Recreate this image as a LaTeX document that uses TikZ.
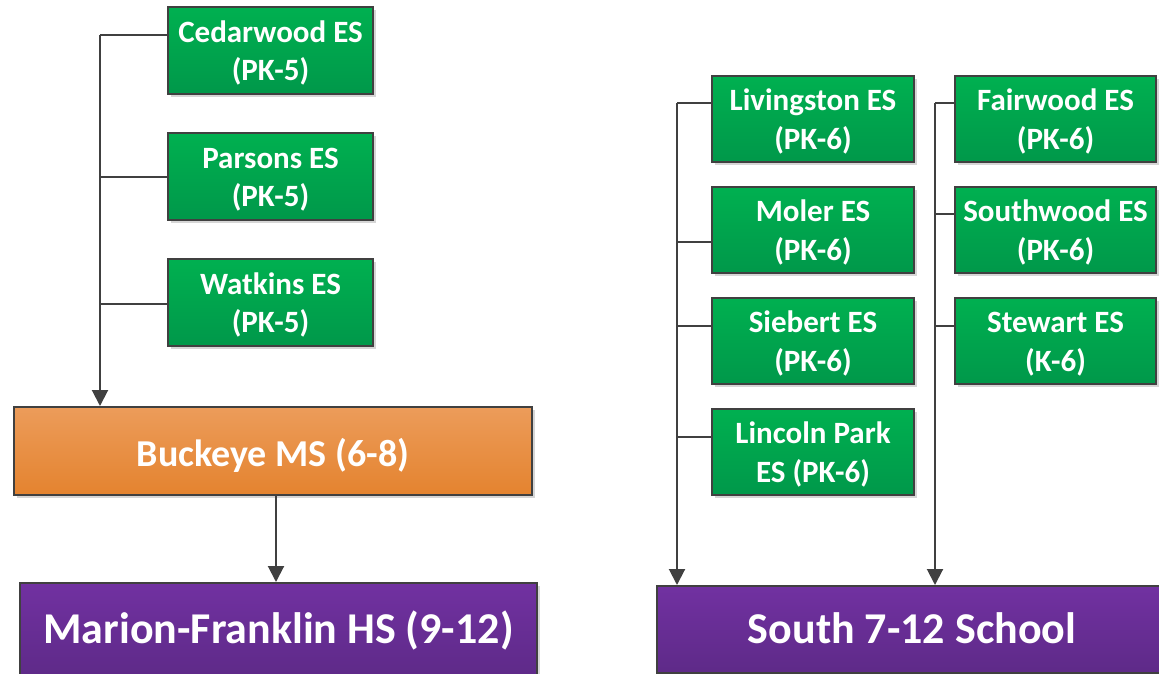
\documentclass[tikz,border=0pt]{standalone}
\usepackage{fontspec}
\setmainfont{Carlito}
\usetikzlibrary{arrows.meta,shadows}
\definecolor{edge}{HTML}{404040}
\definecolor{gtop}{HTML}{00B050}
\definecolor{gbot}{HTML}{00984A}
\definecolor{otop}{HTML}{EC9C5A}
\definecolor{obot}{HTML}{E4832F}
\definecolor{ptop}{HTML}{7131A1}
\definecolor{pbot}{HTML}{5E2A88}
\newcommand\gstrut{\rule[-6pt]{0pt}{34pt}}
\newcommand\gtwo[2]{\gstrut#1\\\gstrut#2}
\tikzset{
  basebox/.style={draw=edge, line width=2pt, inner sep=0pt, align=center, text=white,
    font=\bfseries, drop shadow={shadow xshift=3pt, shadow yshift=-3pt, fill=black, opacity=0.16}},
  gbox/.style={basebox, top color=gtop, bottom color=gbot, font=\fontsize{31}{38.5}\selectfont\bfseries},
  obox/.style={basebox, top color=otop, bottom color=obot, font=\fontsize{38}{44}\selectfont\bfseries,
    text height=31pt, text depth=0pt},
  pbox/.style={basebox, top color=ptop, bottom color=pbot, font=\fontsize{44}{50}\selectfont\bfseries,
    text height=27.8pt, text depth=0pt},
  conn/.style={draw=edge, line width=2pt},
  arr/.style={conn, -{Triangle[width=16pt,length=16pt]}},
}
\begin{document}
\begin{tikzpicture}[x=1pt,y=-1pt]
\useasboundingbox (0,0) rectangle (1159,673);
% left column
\node[gbox, minimum width=205pt, minimum height=87pt] (ced) at (270.5,50.5) {\gtwo{Cedarwood ES}{(PK-5)}};
\node[gbox, minimum width=205pt, minimum height=87pt] (par) at (270.5,176.5) {\gtwo{Parsons ES}{(PK-5)}};
\node[gbox, minimum width=205pt, minimum height=87pt] (wat) at (270.5,302.5) {\gtwo{Watkins ES}{(PK-5)}};
\node[obox, minimum width=518pt, minimum height=88pt] (buck) at (273,451) {Buckeye MS (6-8)};
\node[pbox, minimum width=517pt, minimum height=94pt] (mar) at (278.5,630) {Marion-Franklin HS (9-12)};
% right columns
\node[gbox, minimum width=202pt, minimum height=86pt] (liv) at (813,119) {\gtwo{Livingston ES}{(PK-6)}};
\node[gbox, minimum width=202pt, minimum height=86pt] (mol) at (813,230) {\gtwo{Moler ES}{(PK-6)}};
\node[gbox, minimum width=202pt, minimum height=86pt] (sie) at (813,341) {\gtwo{Siebert ES}{(PK-6)}};
\node[gbox, minimum width=202pt, minimum height=86pt] (lin) at (813,452) {\gtwo{Lincoln Park}{ES (PK-6)}};
\node[gbox, minimum width=201pt, minimum height=86pt] (fai) at (1055.5,119) {\gtwo{Fairwood ES}{(PK-6)}};
\node[gbox, minimum width=201pt, minimum height=86pt] (sou) at (1055.5,230) {\gtwo{Southwood ES}{(PK-6)}};
\node[gbox, minimum width=201pt, minimum height=86pt] (ste) at (1055.5,341) {\gtwo{Stewart ES}{(K-6)}};
\node[pbox, minimum width=510pt, minimum height=87pt] (south) at (912,629.5) {South 7-12 School};
% left connectors
\coordinate (t1) at (100,35);
\draw[conn] ([yshift=15.5pt]ced.west) -- (t1);
\draw[conn] (par.west) -- (par.west -| t1);
\draw[conn] ([yshift=-1.5pt]wat.west) -- ([yshift=-1.5pt]wat.west -| t1);
\draw[arr] (t1) -- (t1 |- buck.north);
\draw[arr] ([xshift=3pt]buck.south) -- ([xshift=3pt]buck.south |- mar.north);
% right connectors
\coordinate (r1) at (677,103);
\coordinate (r2) at (935,103);
\draw[conn] ([yshift=16pt]liv.west) -- (r1);
\draw[conn] ([yshift=-12pt]mol.west) -- ([yshift=-12pt]mol.west -| r1);
\draw[conn] ([yshift=15pt]sie.west) -- ([yshift=15pt]sie.west -| r1);
\draw[conn] ([yshift=15pt]lin.west) -- ([yshift=15pt]lin.west -| r1);
\draw[arr] (r1) -- (r1 |- south.north);
\draw[conn] ([yshift=16pt]fai.west) -- (r2);
\draw[conn] ([yshift=16pt]sou.west) -- ([yshift=16pt]sou.west -| r2);
\draw[conn] ([yshift=15pt]ste.west) -- ([yshift=15pt]ste.west -| r2);
\draw[arr] (r2) -- (r2 |- south.north);
\end{tikzpicture}
\end{document}
